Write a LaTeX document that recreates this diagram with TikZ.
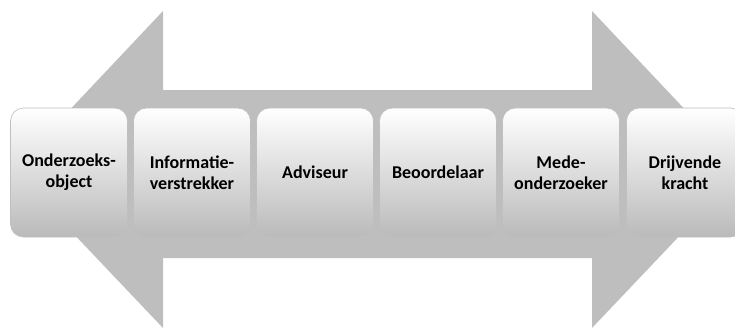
\documentclass[tikz,border=0pt]{standalone}
\usepackage{fontspec}
\setmainfont{Carlito}
\definecolor{arrowgray}{HTML}{BEBEBE}
\tikzset{
  rolebox/.style={rectangle, rounded corners=13pt, minimum width=117pt, minimum height=129pt,
    inner sep=0pt, align=center, text=black, draw=black!25, line width=0.6pt,
    top color=white, middle color=black!6, bottom color=black!27,
    font=\fontsize{18}{21}\selectfont\bfseries},
}
\begin{document}
\begin{tikzpicture}[x=1pt,y=-1pt]
\useasboundingbox (0,0) rectangle (735,329);
\clip (0,0) rectangle (735,329);
% double arrow
\fill[arrowgray] (13,170) -- (163,11) -- (163,90) -- (592,90) -- (592,11) -- (742,170)
  -- (592,328) -- (592,258) -- (163,258) -- (163,328) -- cycle;
% boxes
\node[rolebox] (b1) at (69,172.5) {Onderzoeks-\\object};
\node[rolebox] (b2) at (192,172.5) {Informatie-\\verstrekker};
\node[rolebox] (b3) at (315,172.5) {Adviseur};
\node[rolebox] (b4) at (438,172.5) {Beoordelaar};
\node[rolebox] (b5) at (561,172.5) {Mede-\\onderzoeker};
\node[rolebox] (b6) at (685,172.5) {Drijvende\\kracht};
\end{tikzpicture}
\end{document}
